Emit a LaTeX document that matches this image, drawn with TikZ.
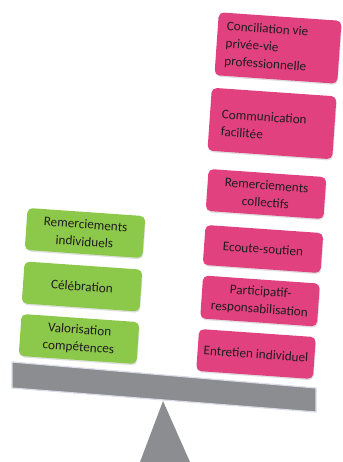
\documentclass[tikz,border=0pt]{standalone}
\usepackage{fontspec}
\setmainfont{Carlito}
\usetikzlibrary{shadows}
\definecolor{gr}{HTML}{8CC94A}
\definecolor{pk}{HTML}{E1427F}
\definecolor{bm}{HTML}{8C8D90}
\definecolor{bmedge}{HTML}{DCDCE8}
\definecolor{tx}{HTML}{221C1F}
\begin{document}
\begin{tikzpicture}[x=1pt,y=-1pt,
  box/.style={rounded corners=5pt, minimum width=118pt, minimum height=42pt,
    rotate=-4, font=\fontsize{13.2}{17.5}\selectfont, text=tx, align=center,
    inner sep=3pt, drop shadow={shadow xshift=0.6pt, shadow yshift=-1.4pt, opacity=0.25}},
  gbox/.style={box, fill=gr},
  pbox/.style={box, fill=pk}]
\useasboundingbox (0,0) rectangle (342,462);
% fulcrum and beam
\fill[bm] (163,401) -- (140,462) -- (190,462) -- cycle;
\filldraw[fill=bm, draw=bmedge, line width=1.2pt] (12,362) -- (316,388) -- (316,412) -- (12,388) -- cycle;
% green side
\node[gbox] (g1) at (85,233) {Remerciements\\individuels};
\node[gbox] (g2) at (82,286.5) {Célébration};
\node[gbox] (g3) at (79,339) {Valorisation\\compétences};
% pink side
\node[pbox, minimum width=123pt, minimum height=63pt, align=flush left, text width=105pt] (p1) at (278,48) {Conciliation vie\\privée-vie\\professionnelle};
\node[pbox, minimum width=125pt, minimum height=63pt, align=flush left, text width=101pt, text depth=12pt] (p2) at (272,123.5) {Communication\\facilitée};
\node[pbox] (p3) at (266,194) {Remerciements\\collectifs};
\node[pbox, minimum height=40pt] (p4) at (263,249) {Ecoute-soutien};
\node[pbox, minimum width=117pt, minimum height=43pt] (p5) at (260,301) {Participatif-\\responsabilisation};
\node[pbox, minimum width=117pt] (p6) at (256,354) {Entretien individuel};
\end{tikzpicture}
\end{document}
